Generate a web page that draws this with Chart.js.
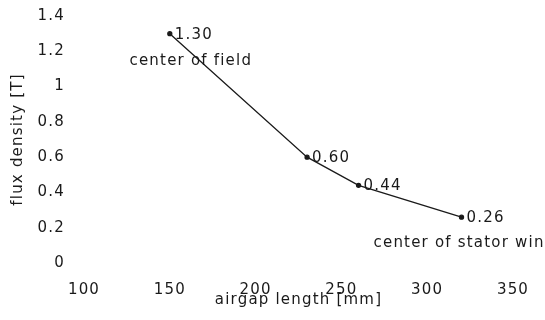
<!DOCTYPE html>
<html lang="en">
<head>
  <meta charset="UTF-8">
  <title>Flux density vs airgap length</title>
  <script src="https://cdn.jsdelivr.net/npm/chart.js"></script>
  <style>
    html, body { margin: 0; padding: 0; background: #fff; }
    #wrap { width: 545px; height: 320px; position: relative; }
  </style>
</head>
<body>
  <div id="wrap"><canvas id="fluxChart"></canvas></div>

  <script>
    const airgap = [150, 230, 260, 320];
    const flux = [1.30, 0.60, 0.44, 0.26];
    const valueLabels = ['1.30', '0.60', '0.44', '0.26'];
    const noteLabels = ['center of field', '', '', 'center of stator win'];
    const xTicks = [100, 150, 200, 250, 300, 350];
    const yTicks = [0, 0.2, 0.4, 0.6, 0.8, 1, 1.2, 1.4];
    const yTickLabels = ['0', '0.2', '0.4', '0.6', '0.8', '1', '1.2', '1.4'];

    const ink = '#1a1a1a';
    const fontFamily = '"DejaVu Sans", sans-serif';
    const spacing = '1.2px';

    // canvas letter spacing is reset on resize, so set it again before layout and draw
    const spacingPlugin = {
      id: 'spacing',
      beforeUpdate(chart) { chart.ctx.letterSpacing = spacing; },
      beforeDraw(chart) { chart.ctx.letterSpacing = spacing; }
    };

    const labelPlugin = {
      id: 'pointText',
      afterDatasetsDraw(chart) {
        const ctx = chart.ctx;
        const xs = chart.scales.x, ys = chart.scales.y;
        ctx.save();
        ctx.letterSpacing = spacing;
        ctx.fillStyle = ink;
        ctx.font = '15px ' + fontFamily;
        ctx.textBaseline = 'middle';
        airgap.forEach((v, i) => {
          const px = xs.getPixelForValue(v);
          const py = ys.getPixelForValue(flux[i]);
          ctx.textAlign = 'left';
          ctx.fillText(valueLabels[i], px + 5, py + 1);
          if (!noteLabels[i]) return;
          if (i === 0) {
            ctx.textAlign = 'center';
            ctx.fillText(noteLabels[i], px + 21, py + 27);
          } else {
            ctx.textAlign = 'left';
            ctx.fillText(noteLabels[i], px - 88, py + 26);
          }
        });
        ctx.restore();
      }
    };

    new Chart(document.getElementById('fluxChart'), {
      type: 'scatter',
      data: {
        datasets: [{
          data: airgap.map((x, i) => ({ x: x, y: flux[i] })),
          showLine: true,
          borderColor: ink,
          borderWidth: 1.3,
          backgroundColor: ink,
          pointRadius: 2,
          pointHoverRadius: 2,
          tension: 0
        }]
      },
      options: {
        responsive: true,
        maintainAspectRatio: false,
        animation: false,
        layout: { padding: { left: 0, right: 32, top: 16, bottom: 0 } },
        plugins: {
          legend: { display: false },
          tooltip: { enabled: false }
        },
        scales: {
          x: {
            type: 'linear',
            min: 100,
            max: 350,
            afterBuildTicks: s => { s.ticks = xTicks.map(v => ({ value: v })); },
            afterFit: s => {
              s.height = 57;
              s.paddingLeft = 0;
              s.paddingRight = 0;
            },
            grid: { display: false, drawTicks: false },
            border: { display: false },
            ticks: {
              color: ink,
              padding: 18,
              maxRotation: 0,
              font: { family: fontFamily, size: 15 },
              callback: v => String(v)
            },
            title: {
              display: true,
              text: 'airgap length [mm]',
              color: ink,
              padding: { top: 0, bottom: 11 },
              font: { family: fontFamily, size: 15 }
            }
          },
          y: {
            type: 'linear',
            min: 0,
            max: 1.4,
            afterBuildTicks: s => { s.ticks = yTicks.map(v => ({ value: v })); },
            afterFit: s => {
              s.width = 84;
              s.paddingTop = 0;
              s.paddingBottom = 0;
            },
            grid: { display: false, drawTicks: false },
            border: { display: false },
            ticks: {
              color: ink,
              padding: 19,
              font: { family: fontFamily, size: 15 },
              callback: (v, i) => yTickLabels[i]
            },
            title: {
              display: true,
              text: 'flux density [T]',
              color: ink,
              padding: { top: 9, bottom: 0 },
              font: { family: fontFamily, size: 15 }
            }
          }
        }
      },
      plugins: [spacingPlugin, labelPlugin]
    });
  </script>
</body>
</html>
